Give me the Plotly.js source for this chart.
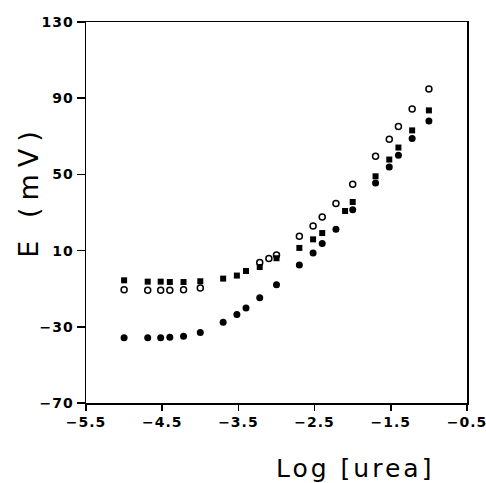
<!DOCTYPE html>
<html>
<head>
<meta charset="utf-8">
<script src="https://cdn.plot.ly/plotly-3.0.1.min.js"></script>
<style>
  html, body { margin: 0; padding: 0; background: #fff; }
  #chart { width: 486px; height: 483px; }
  #chart g.annotation[data-index="0"] text { letter-spacing: 3px; }
  #chart g.annotation[data-index="1"] text { letter-spacing: 7px; }
  #chart .xtick text, #chart .ytick text { letter-spacing: 1px; }
</style>
</head>
<body>
<div id="chart"></div>
<script>
// Log [urea] positions and potentials (mV)
const openX   = [-5.0, -4.69, -4.52, -4.40, -4.22, -4.0, -3.22, -3.10, -3.0, -2.70, -2.52, -2.40, -2.22, -2.0, -1.70, -1.52, -1.40, -1.22, -1.0];
const openY   = [-10.5, -10.8, -10.8, -10.8, -10.5, -9.6, 3.7, 5.8, 7.7, 17.5, 22.9, 27.6, 34.7, 44.8, 59.5, 68.4, 75.2, 84.3, 94.8];

const squareX = [-5.0, -4.69, -4.52, -4.40, -4.22, -4.0, -3.70, -3.52, -3.40, -3.22, -3.0, -2.70, -2.52, -2.40, -2.10, -2.0, -1.70, -1.52, -1.40, -1.22, -1.0];
const squareY = [-5.6, -6.3, -6.3, -6.5, -6.5, -6.1, -4.7, -3.1, -0.7, 1.4, 6.0, 11.4, 15.9, 19.2, 30.8, 35.5, 49.0, 57.8, 64.1, 73.1, 83.6];

const dotX    = [-5.0, -4.69, -4.52, -4.40, -4.22, -4.0, -3.70, -3.52, -3.40, -3.22, -3.0, -2.70, -2.52, -2.40, -2.22, -2.0, -1.70, -1.52, -1.40, -1.22, -1.0];
const dotY    = [-35.7, -35.7, -35.7, -35.5, -35.0, -33.0, -27.6, -23.6, -20.1, -14.7, -7.9, 2.4, 8.7, 13.7, 21.2, 31.5, 45.5, 53.9, 60.0, 68.8, 78.0];

const xTitle = 'Log [urea]';
const yTitle = 'E\u00a0(mV)';

const traces = [
  { x: openX, y: openY, mode: 'markers', type: 'scatter',
    marker: { symbol: 'circle', size: 6, color: '#ffffff', line: { color: '#000000', width: 1.5 } } },
  { x: squareX, y: squareY, mode: 'markers', type: 'scatter',
    marker: { symbol: 'square', size: 6, color: '#000000', line: { width: 0 } } },
  { x: dotX, y: dotY, mode: 'markers', type: 'scatter',
    marker: { symbol: 'circle', size: 7, color: '#000000', line: { width: 0 } } }
];

const tickFont = { family: 'DejaVu Sans', size: 14, color: '#000000', weight: 'bold' };

const layout = {
  width: 486, height: 483,
  margin: { l: 86, r: 19, t: 22, b: 80 },
  paper_bgcolor: '#ffffff', plot_bgcolor: '#ffffff',
  showlegend: false,
  xaxis: {
    range: [-5.5, -0.5], tick0: -5.5, dtick: 1, tickmode: 'linear',
    showgrid: false, zeroline: false,
    showline: true, linecolor: '#000000', linewidth: 1.5, mirror: true,
    ticks: 'outside', ticklen: 6, tickwidth: 1.5, tickcolor: '#000000',
    tickfont: tickFont, tickformat: '.1f'
  },
  yaxis: {
    range: [-70, 130], tick0: -70, dtick: 40, tickmode: 'linear',
    showgrid: false, zeroline: false,
    showline: true, linecolor: '#000000', linewidth: 1.5, mirror: true,
    ticks: 'outside', ticklen: 8, tickwidth: 1.5, tickcolor: '#000000',
    tickfont: tickFont
  },
  annotations: [
    { text: xTitle, xref: 'paper', yref: 'paper', x: 0.706, y: -0.171,
      xanchor: 'center', yanchor: 'middle', showarrow: false,
      font: { family: 'DejaVu Sans', size: 25, color: '#000000' } },
    { text: yTitle, xref: 'paper', yref: 'paper', x: -0.152, y: 0.555,
      xanchor: 'center', yanchor: 'middle', showarrow: false, textangle: -90,
      font: { family: 'DejaVu Sans', size: 27, color: '#000000' } }
  ]
};

Plotly.newPlot('chart', traces, layout, { staticPlot: true, displayModeBar: false });
</script>
</body>
</html>
